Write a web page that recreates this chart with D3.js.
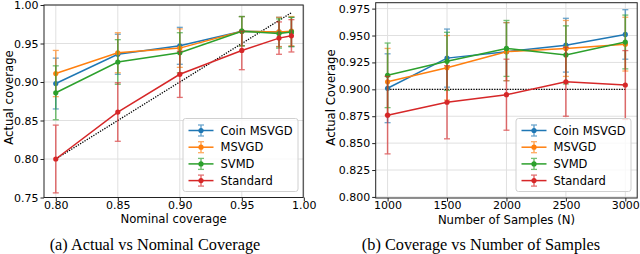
<!DOCTYPE html>
<html>
<head>
<meta charset="utf-8">
<script src="https://cdn.jsdelivr.net/npm/d3@7"></script>
<style>
  body { margin: 0; background: #fff; }
  svg { display: block; }
  .tick text { font-family: "DejaVu Sans", sans-serif; font-size: 11px; fill: #000; }
  .axLabel { font-family: "DejaVu Sans", sans-serif; font-size: 11.7px; fill: #000; }
  .caption { font-family: "Liberation Serif", "Times New Roman", serif; font-size: 16.3px; fill: #000; }
  .legend text { font-family: "DejaVu Sans", sans-serif; font-size: 11.5px; fill: #000; }
</style>
</head>
<body>
<svg id="chart" width="640" height="254"></svg>
<script>
const METHODS = ["Coin MSVGD", "MSVGD", "SVMD", "Standard"];
const COLORS = ["#1f77b4", "#ff7f0e", "#2ca02c", "#d62728"];

// (a) actual vs nominal coverage
const NOMINAL = [0.80, 0.85, 0.90, 0.95, 0.98, 0.99];
const A_COIN = [0.898, 0.936, 0.947, 0.966, 0.965, 0.965];
const A_COIN_ERR = [0.033, 0.026, 0.024, 0.019, 0.019, 0.019];
const A_MSVGD = [0.911, 0.938, 0.944, 0.966, 0.965, 0.966];
const A_MSVGD_ERR = [0.030, 0.026, 0.025, 0.019, 0.019, 0.019];
const A_SVMD = [0.886, 0.926, 0.938, 0.966, 0.963, 0.965];
const A_SVMD_ERR = [0.035, 0.029, 0.026, 0.019, 0.019, 0.019];
const A_STD = [0.800, 0.861, 0.910, 0.941, 0.957, 0.960];
const A_STD_ERR = [0.044, 0.038, 0.030, 0.025, 0.021, 0.021];
const A_XTICKS = [0.80, 0.85, 0.90, 0.95, 1.00];
const A_YTICKS = [0.75, 0.80, 0.85, 0.90, 0.95, 1.00];

// (b) coverage vs number of samples
const SAMPLES = [1000, 1500, 2000, 2500, 3000];
const B_COIN = [0.901, 0.929, 0.935, 0.941, 0.951];
const B_COIN_ERR = [0.032, 0.027, 0.027, 0.025, 0.023];
const B_MSVGD = [0.907, 0.920, 0.935, 0.938, 0.942];
const B_MSVGD_ERR = [0.031, 0.030, 0.027, 0.026, 0.025];
const B_SVMD = [0.913, 0.926, 0.938, 0.932, 0.944];
const B_SVMD_ERR = [0.030, 0.027, 0.026, 0.027, 0.025];
const B_STD = [0.876, 0.888, 0.895, 0.907, 0.904];
const B_STD_ERR = [0.036, 0.034, 0.033, 0.032, 0.032];
const B_XTICKS = [1000, 1500, 2000, 2500, 3000];
const B_YTICKS = [0.800, 0.825, 0.850, 0.875, 0.900, 0.925, 0.950, 0.975];
const TARGET = 0.9;

const svg = d3.select("#chart");

function drawPanel(p) {
  const x = d3.scaleLinear().domain(p.xDomain).range([p.left, p.right]);
  const y = d3.scaleLinear().domain(p.yDomain).range([p.bottom, p.top]);
  const g = svg.append("g");

  // grid
  g.append("g").selectAll("line").data(p.xTicks).join("line")
    .attr("x1", (d) => x(d)).attr("x2", (d) => x(d))
    .attr("y1", p.top).attr("y2", p.bottom)
    .attr("stroke", "#e0e0e0").attr("stroke-width", 1);
  g.append("g").selectAll("line").data(p.yTicks).join("line")
    .attr("x1", p.left).attr("x2", p.right)
    .attr("y1", (d) => y(d)).attr("y2", (d) => y(d))
    .attr("stroke", "#e0e0e0").attr("stroke-width", 1);

  // reference line
  g.append("path")
    .attr("d", d3.line().x((d) => x(d[0])).y((d) => y(d[1]))(p.refLine))
    .attr("fill", "none").attr("stroke", "#000")
    .attr("stroke-width", 1.3).attr("stroke-dasharray", "1.3,1.3");

  p.series.forEach((s, i) => {
    const color = COLORS[i];
    const pts = p.xs.map((xv, j) => ({ x: xv, y: s.vals[j], e: s.errs[j] }));
    const sg = g.append("g");
    const eb = sg.append("g").attr("opacity", 0.65);
    eb.selectAll("line.bar").data(pts).join("line").attr("class", "bar")
      .attr("x1", (d) => x(d.x)).attr("x2", (d) => x(d.x))
      .attr("y1", (d) => y(d.y - d.e)).attr("y2", (d) => y(d.y + d.e))
      .attr("stroke", color).attr("stroke-width", 1.5);
    ["lo", "hi"].forEach((k) => {
      eb.selectAll("line.cap" + k).data(pts).join("line").attr("class", "cap" + k)
        .attr("x1", (d) => x(d.x) - 3).attr("x2", (d) => x(d.x) + 3)
        .attr("y1", (d) => y(k === "lo" ? d.y - d.e : d.y + d.e))
        .attr("y2", (d) => y(k === "lo" ? d.y - d.e : d.y + d.e))
        .attr("stroke", color).attr("stroke-width", 1.3);
    });
    sg.append("path")
      .attr("d", d3.line().x((d) => x(d.x)).y((d) => y(d.y))(pts))
      .attr("fill", "none").attr("stroke", color).attr("stroke-width", 1.5);
    sg.selectAll("circle").data(pts).join("circle")
      .attr("cx", (d) => x(d.x)).attr("cy", (d) => y(d.y)).attr("r", 2.6)
      .attr("fill", color);
  });

  // frame + axes
  g.append("rect")
    .attr("x", p.left).attr("y", p.top)
    .attr("width", p.right - p.left).attr("height", p.bottom - p.top)
    .attr("fill", "none").attr("stroke", "#222").attr("stroke-width", 1);

  const xAxis = g.append("g").attr("transform", `translate(0,${p.bottom})`)
    .call(d3.axisBottom(x).tickValues(p.xTicks).tickFormat(p.xFmt).tickSize(3.5));
  xAxis.selectAll(".tick text").attr("y", 11).attr("dy", null);
  const yAxis = g.append("g").attr("transform", `translate(${p.left},0)`)
    .call(d3.axisLeft(y).tickValues(p.yTicks).tickFormat(p.yFmt).tickSize(3.5).tickPadding(2));
  [xAxis, yAxis].forEach((a) => {
    a.select(".domain").remove();
    a.selectAll(".tick line").attr("stroke", "#222");
  });

  g.append("text").attr("class", "axLabel")
    .attr("x", (p.left + p.right) / 2).attr("y", p.bottom + 25.5)
    .attr("text-anchor", "middle").text(p.xLabel);
  g.append("text").attr("class", "axLabel")
    .attr("transform", `translate(${p.yLabelX},97.5) rotate(-90)`)
    .attr("text-anchor", "middle").text(p.yLabel);
  g.append("text").attr("class", "caption")
    .attr("x", p.captionX).attr("y", 250)
    .attr("text-anchor", "middle").text(p.caption);

  // legend
  const lg = g.append("g").attr("class", "legend")
    .attr("transform", `translate(${p.legendX},${p.legendY})`);
  lg.append("rect").attr("width", 115).attr("height", 73).attr("rx", 2.5)
    .attr("fill", "#fff").attr("fill-opacity", 0.8)
    .attr("stroke", "#d0d0d0").attr("stroke-width", 1);
  METHODS.forEach((m, i) => {
    const cy = 12 + i * 16.7;
    const row = lg.append("g").attr("transform", `translate(0,${cy})`);
    const eb = row.append("g").attr("opacity", 0.65);
    eb.append("line").attr("x1", 18).attr("x2", 18).attr("y1", -5.5).attr("y2", 5.5)
      .attr("stroke", COLORS[i]).attr("stroke-width", 1.5);
    [-5.5, 5.5].forEach((dy) => eb.append("line")
      .attr("x1", 15).attr("x2", 21).attr("y1", dy).attr("y2", dy)
      .attr("stroke", COLORS[i]).attr("stroke-width", 1.3));
    row.append("line").attr("x1", 5.5).attr("x2", 30.5).attr("y1", 0).attr("y2", 0)
      .attr("stroke", COLORS[i]).attr("stroke-width", 1.5);
    row.append("circle").attr("cx", 18).attr("cy", 0).attr("r", 2.6).attr("fill", COLORS[i]);
    row.append("text").attr("x", 37.5).attr("y", 0).attr("dy", "0.36em").text(m);
  });
}

drawPanel({
  left: 44, right: 303.2, top: 5, bottom: 197.5,
  xDomain: [0.7905, 0.9995], yDomain: [0.75, 1.0],
  xTicks: A_XTICKS, yTicks: A_YTICKS,
  xFmt: d3.format(".2f"), yFmt: d3.format(".2f"),
  xs: NOMINAL,
  series: [
    { vals: A_COIN, errs: A_COIN_ERR },
    { vals: A_MSVGD, errs: A_MSVGD_ERR },
    { vals: A_SVMD, errs: A_SVMD_ERR },
    { vals: A_STD, errs: A_STD_ERR },
  ],
  refLine: [[NOMINAL[0], NOMINAL[0]], [NOMINAL[NOMINAL.length - 1], NOMINAL[NOMINAL.length - 1]]],
  xLabel: "Nominal coverage", yLabel: "Actual coverage", yLabelX: 12.5,
  caption: "(a) Actual vs Nominal Coverage", captionX: 155,
  legendX: 183, legendY: 118.5,
});

drawPanel({
  left: 375.7, right: 637.2, top: 2.7, bottom: 198,
  xDomain: [900, 3100], yDomain: [0.799, 0.9805],
  xTicks: B_XTICKS, yTicks: B_YTICKS,
  xFmt: d3.format("d"), yFmt: d3.format(".3f"),
  xs: SAMPLES,
  series: [
    { vals: B_COIN, errs: B_COIN_ERR },
    { vals: B_MSVGD, errs: B_MSVGD_ERR },
    { vals: B_SVMD, errs: B_SVMD_ERR },
    { vals: B_STD, errs: B_STD_ERR },
  ],
  refLine: [[SAMPLES[0], TARGET], [SAMPLES[SAMPLES.length - 1], TARGET]],
  xLabel: "Number of Samples (N)", yLabel: "Actual Coverage", yLabelX: 334.5,
  caption: "(b) Coverage vs Number of Samples", captionX: 481,
  legendX: 516, legendY: 118.5,
});
</script>
</body>
</html>
